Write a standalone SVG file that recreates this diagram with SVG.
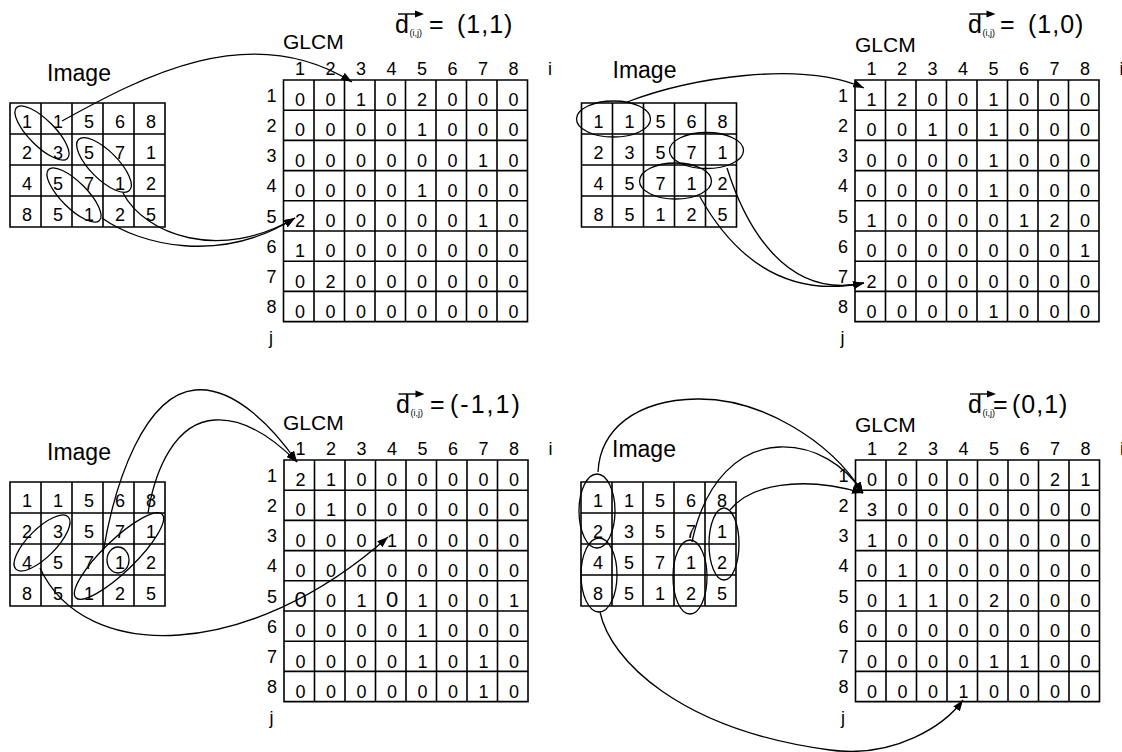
<svg xmlns="http://www.w3.org/2000/svg" width="1122" height="752" viewBox="0 0 1122 752">
<style>
text{font-family:"Liberation Sans",Arial,Helvetica,sans-serif;fill:#000}
.c{font-size:18px;text-anchor:middle}
.big{font-size:22px}
.rl{font-size:18px;text-anchor:end}
.lbl{font-size:21px}
.img{font-size:23px}
.d{font-size:25px}
.sub{font-size:9px}
.grid{fill:none;stroke:#000;stroke-width:1.6}
.ell{fill:none;stroke:#000;stroke-width:1.3}
.con{fill:none;stroke:#000;stroke-width:1.3;marker-end:url(#ah)}
.vec{fill:none;stroke:#000;stroke-width:1.4}
</style>
<defs>
<marker id="ah" markerWidth="11" markerHeight="8" refX="11" refY="4" orient="auto" markerUnits="userSpaceOnUse"><path d="M0,0 L11,4 L0,8 z" fill="#000"/></marker>
<path id="mgrid" class="grid" d="M283.5,80h244v241.6h-244z M314,80v241.6 M344.5,80v241.6 M375,80v241.6 M405.5,80v241.6 M436,80v241.6 M466.5,80v241.6 M497,80v241.6 M283.5,110.2h244 M283.5,140.4h244 M283.5,170.6h244 M283.5,200.8h244 M283.5,231h244 M283.5,261.2h244 M283.5,291.4h244"/>
<path id="igrid" class="grid" d="M10,103h155v124h-155z M41,103v124 M72,103v124 M103,103v124 M134,103v124 M10,134h155 M10,165h155 M10,196h155"/>
<g id="axes">
<text class="c" x="300" y="75">1</text><text class="c" x="330.5" y="75">2</text><text class="c" x="361" y="75">3</text><text class="c" x="391.5" y="75">4</text><text class="c" x="422" y="75">5</text><text class="c" x="452.5" y="75">6</text><text class="c" x="483" y="75">7</text><text class="c" x="513.5" y="75">8</text>
<text class="c" x="550" y="75">i</text>
<text class="rl" x="276.5" y="101.5">1</text><text class="rl" x="276.5" y="131.5">2</text><text class="rl" x="276.5" y="162">3</text><text class="rl" x="276.5" y="192">4</text><text class="rl" x="276.5" y="222.5">5</text><text class="rl" x="276.5" y="252.5">6</text><text class="rl" x="276.5" y="283">7</text><text class="rl" x="276.5" y="313">8</text>
<text class="c" x="271" y="344">j</text>
<path class="vec" d="M398,14H417"/><path d="M415,10.5L424,14L415,17.5z" fill="#000"/>
</g>
<g id="imgcells">
<text class="c" x="27" y="128">1</text><text class="c" x="58" y="128">1</text><text class="c" x="89" y="128">5</text><text class="c" x="120" y="128">6</text><text class="c" x="151" y="128">8</text>
<text class="c" x="27" y="159">2</text><text class="c" x="58" y="159">3</text><text class="c" x="89" y="159">5</text><text class="c" x="120" y="159">7</text><text class="c" x="151" y="159">1</text>
<text class="c" x="27" y="190">4</text><text class="c" x="58" y="190">5</text><text class="c" x="89" y="190">7</text><text class="c" x="120" y="190">1</text><text class="c" x="151" y="190">2</text>
<text class="c" x="27" y="221">8</text><text class="c" x="58" y="221">5</text><text class="c" x="89" y="221">1</text><text class="c" x="120" y="221">2</text><text class="c" x="151" y="221">5</text>
</g>
</defs>

<!-- Quadrant 1 -->
<g id="q1-image">
<text class="img" x="47" y="81">Image</text>
<use href="#igrid"/><use href="#imgcells"/>
<ellipse class="ell" cx="42" cy="133" rx="36" ry="13" transform="rotate(45 42 133)"/>
<ellipse class="ell" cx="104" cy="165" rx="36" ry="14" transform="rotate(45 104 165)"/>
<ellipse class="ell" cx="74" cy="195" rx="36" ry="13" transform="rotate(45 74 195)"/>
</g>
<g id="q1-glcm">
<text class="lbl" x="283" y="49">GLCM</text>
<text class="d" x="395" y="33">d</text><text class="sub" x="409.5" y="36">(i,j)</text><text class="d" x="429" y="33">=</text><text class="d" x="457" y="33" letter-spacing="1">(1,1)</text>
<use href="#mgrid"/><use href="#axes"/>
<text class="c" x="300" y="106">0</text><text class="c" x="330.5" y="106">0</text><text class="c" x="361" y="106">1</text><text class="c" x="391.5" y="106">0</text><text class="c" x="422" y="106">2</text><text class="c" x="452.5" y="106">0</text><text class="c" x="483" y="106">0</text><text class="c" x="513.5" y="106">0</text>
<text class="c" x="300" y="136">0</text><text class="c" x="330.5" y="136">0</text><text class="c" x="361" y="136">0</text><text class="c" x="391.5" y="136">0</text><text class="c" x="422" y="136">1</text><text class="c" x="452.5" y="136">0</text><text class="c" x="483" y="136">0</text><text class="c" x="513.5" y="136">0</text>
<text class="c" x="300" y="166.5">0</text><text class="c" x="330.5" y="166.5">0</text><text class="c" x="361" y="166.5">0</text><text class="c" x="391.5" y="166.5">0</text><text class="c" x="422" y="166.5">0</text><text class="c" x="452.5" y="166.5">0</text><text class="c" x="483" y="166.5">1</text><text class="c" x="513.5" y="166.5">0</text>
<text class="c" x="300" y="196.5">0</text><text class="c" x="330.5" y="196.5">0</text><text class="c" x="361" y="196.5">0</text><text class="c" x="391.5" y="196.5">0</text><text class="c" x="422" y="196.5">1</text><text class="c" x="452.5" y="196.5">0</text><text class="c" x="483" y="196.5">0</text><text class="c" x="513.5" y="196.5">0</text>
<text class="c" x="300" y="227">2</text><text class="c" x="330.5" y="227">0</text><text class="c" x="361" y="227">0</text><text class="c" x="391.5" y="227">0</text><text class="c" x="422" y="227">0</text><text class="c" x="452.5" y="227">0</text><text class="c" x="483" y="227">1</text><text class="c" x="513.5" y="227">0</text>
<text class="c" x="300" y="257">1</text><text class="c" x="330.5" y="257">0</text><text class="c" x="361" y="257">0</text><text class="c" x="391.5" y="257">0</text><text class="c" x="422" y="257">0</text><text class="c" x="452.5" y="257">0</text><text class="c" x="483" y="257">0</text><text class="c" x="513.5" y="257">0</text>
<text class="c" x="300" y="287.5">0</text><text class="c" x="330.5" y="287.5">2</text><text class="c" x="361" y="287.5">0</text><text class="c" x="391.5" y="287.5">0</text><text class="c" x="422" y="287.5">0</text><text class="c" x="452.5" y="287.5">0</text><text class="c" x="483" y="287.5">0</text><text class="c" x="513.5" y="287.5">0</text>
<text class="c" x="300" y="317.5">0</text><text class="c" x="330.5" y="317.5">0</text><text class="c" x="361" y="317.5">0</text><text class="c" x="391.5" y="317.5">0</text><text class="c" x="422" y="317.5">0</text><text class="c" x="452.5" y="317.5">0</text><text class="c" x="483" y="317.5">0</text><text class="c" x="513.5" y="317.5">0</text>
</g>

<!-- Quadrant 2 -->
<g id="q2-image" transform="translate(571.5,0)">
<text class="img" x="41" y="78">Image</text>
<use href="#igrid"/><use href="#imgcells"/>
<ellipse class="ell" cx="42" cy="119" rx="37" ry="18"/>
<ellipse class="ell" cx="135" cy="150.5" rx="37" ry="18"/>
<ellipse class="ell" cx="104" cy="181" rx="36" ry="18"/>
</g>
<g id="q2-glcm" transform="translate(571.5,0)">
<text class="lbl" x="283.5" y="52">GLCM</text>
<text class="d" x="396.5" y="33">d</text><text class="sub" x="411" y="36">(i,j)</text><text class="d" x="428.5" y="33">=</text><text class="d" x="456.5" y="33" letter-spacing="1">(1,0)</text>
<use href="#mgrid"/><use href="#axes"/>
<text class="c" x="300" y="106">1</text><text class="c" x="330.5" y="106">2</text><text class="c" x="361" y="106">0</text><text class="c" x="391.5" y="106">0</text><text class="c" x="422" y="106">1</text><text class="c" x="452.5" y="106">0</text><text class="c" x="483" y="106">0</text><text class="c" x="513.5" y="106">0</text>
<text class="c" x="300" y="136">0</text><text class="c" x="330.5" y="136">0</text><text class="c" x="361" y="136">1</text><text class="c" x="391.5" y="136">0</text><text class="c" x="422" y="136">1</text><text class="c" x="452.5" y="136">0</text><text class="c" x="483" y="136">0</text><text class="c" x="513.5" y="136">0</text>
<text class="c" x="300" y="166.5">0</text><text class="c" x="330.5" y="166.5">0</text><text class="c" x="361" y="166.5">0</text><text class="c" x="391.5" y="166.5">0</text><text class="c" x="422" y="166.5">1</text><text class="c" x="452.5" y="166.5">0</text><text class="c" x="483" y="166.5">0</text><text class="c" x="513.5" y="166.5">0</text>
<text class="c" x="300" y="196.5">0</text><text class="c" x="330.5" y="196.5">0</text><text class="c" x="361" y="196.5">0</text><text class="c" x="391.5" y="196.5">0</text><text class="c" x="422" y="196.5">1</text><text class="c" x="452.5" y="196.5">0</text><text class="c" x="483" y="196.5">0</text><text class="c" x="513.5" y="196.5">0</text>
<text class="c" x="300" y="227">1</text><text class="c" x="330.5" y="227">0</text><text class="c" x="361" y="227">0</text><text class="c" x="391.5" y="227">0</text><text class="c" x="422" y="227">0</text><text class="c" x="452.5" y="227">1</text><text class="c" x="483" y="227">2</text><text class="c" x="513.5" y="227">0</text>
<text class="c" x="300" y="257">0</text><text class="c" x="330.5" y="257">0</text><text class="c" x="361" y="257">0</text><text class="c" x="391.5" y="257">0</text><text class="c" x="422" y="257">0</text><text class="c" x="452.5" y="257">0</text><text class="c" x="483" y="257">0</text><text class="c" x="513.5" y="257">1</text>
<text class="c" x="300" y="287.5">2</text><text class="c" x="330.5" y="287.5">0</text><text class="c" x="361" y="287.5">0</text><text class="c" x="391.5" y="287.5">0</text><text class="c" x="422" y="287.5">0</text><text class="c" x="452.5" y="287.5">0</text><text class="c" x="483" y="287.5">0</text><text class="c" x="513.5" y="287.5">0</text>
<text class="c" x="300" y="317.5">0</text><text class="c" x="330.5" y="317.5">0</text><text class="c" x="361" y="317.5">0</text><text class="c" x="391.5" y="317.5">0</text><text class="c" x="422" y="317.5">1</text><text class="c" x="452.5" y="317.5">0</text><text class="c" x="483" y="317.5">0</text><text class="c" x="513.5" y="317.5">0</text>
</g>

<!-- Quadrant 3 -->
<g id="q3-image" transform="translate(0,379)">
<text class="img" x="47" y="81">Image</text>
<use href="#igrid"/><use href="#imgcells"/>
<ellipse class="ell" cx="42" cy="164" rx="37" ry="14" transform="rotate(-45 42 164)"/>
<ellipse class="ell" cx="119" cy="177" rx="60" ry="16" transform="rotate(-44 119 177)"/>
<ellipse class="ell" cx="118" cy="181" rx="11" ry="13"/>
</g>
<g id="q3-glcm" transform="translate(0.5,380)">
<text class="lbl" x="282.5" y="50">GLCM</text>
<text class="d" x="395.5" y="33">d</text><text class="sub" x="410" y="36">(i,j)</text><text class="d" x="429.5" y="33">=</text><text class="d" x="449.5" y="33" letter-spacing="2">(-1,1)</text>
<use href="#mgrid"/><use href="#axes"/>
<text class="c" x="300" y="106">2</text><text class="c" x="330.5" y="106">1</text><text class="c" x="361" y="106">0</text><text class="c" x="391.5" y="106">0</text><text class="c" x="422" y="106">0</text><text class="c" x="452.5" y="106">0</text><text class="c" x="483" y="106">0</text><text class="c" x="513.5" y="106">0</text>
<text class="c" x="300" y="136">0</text><text class="c" x="330.5" y="136">1</text><text class="c" x="361" y="136">0</text><text class="c" x="391.5" y="136">0</text><text class="c" x="422" y="136">0</text><text class="c" x="452.5" y="136">0</text><text class="c" x="483" y="136">0</text><text class="c" x="513.5" y="136">0</text>
<text class="c" x="300" y="166.5">0</text><text class="c" x="330.5" y="166.5">0</text><text class="c" x="361" y="166.5">0</text><text class="c" x="391.5" y="166.5">1</text><text class="c" x="422" y="166.5">0</text><text class="c" x="452.5" y="166.5">0</text><text class="c" x="483" y="166.5">0</text><text class="c" x="513.5" y="166.5">0</text>
<text class="c" x="300" y="196.5">0</text><text class="c" x="330.5" y="196.5">0</text><text class="c" x="361" y="196.5">0</text><text class="c" x="391.5" y="196.5">0</text><text class="c" x="422" y="196.5">0</text><text class="c" x="452.5" y="196.5">0</text><text class="c" x="483" y="196.5">0</text><text class="c" x="513.5" y="196.5">0</text>
<text class="c big" x="300" y="227">0</text><text class="c" x="330.5" y="227">0</text><text class="c" x="361" y="227">1</text><text class="c big" x="391.5" y="227">0</text><text class="c" x="422" y="227">1</text><text class="c" x="452.5" y="227">0</text><text class="c" x="483" y="227">0</text><text class="c" x="513.5" y="227">1</text>
<text class="c" x="300" y="257">0</text><text class="c" x="330.5" y="257">0</text><text class="c" x="361" y="257">0</text><text class="c" x="391.5" y="257">0</text><text class="c" x="422" y="257">1</text><text class="c" x="452.5" y="257">0</text><text class="c" x="483" y="257">0</text><text class="c" x="513.5" y="257">0</text>
<text class="c" x="300" y="287.5">0</text><text class="c" x="330.5" y="287.5">0</text><text class="c" x="361" y="287.5">0</text><text class="c" x="391.5" y="287.5">0</text><text class="c" x="422" y="287.5">1</text><text class="c" x="452.5" y="287.5">0</text><text class="c" x="483" y="287.5">1</text><text class="c" x="513.5" y="287.5">0</text>
<text class="c" x="300" y="317.5">0</text><text class="c" x="330.5" y="317.5">0</text><text class="c" x="361" y="317.5">0</text><text class="c" x="391.5" y="317.5">0</text><text class="c" x="422" y="317.5">0</text><text class="c" x="452.5" y="317.5">0</text><text class="c" x="483" y="317.5">1</text><text class="c" x="513.5" y="317.5">0</text>
</g>

<!-- Quadrant 4 -->
<g id="q4-image" transform="translate(571,379)">
<text class="img" x="41" y="78">Image</text>
<use href="#igrid"/><use href="#imgcells"/>
<ellipse class="ell" cx="26" cy="132" rx="18" ry="37"/>
<ellipse class="ell" cx="28" cy="196" rx="18" ry="37"/>
<ellipse class="ell" cx="119" cy="198" rx="17" ry="37"/>
<ellipse class="ell" cx="153" cy="165" rx="15" ry="36"/>
</g>
<g id="q4-glcm" transform="translate(572,380)">
<text class="lbl" x="283" y="52">GLCM</text>
<text class="d" x="396" y="33">d</text><text class="sub" x="410.5" y="36">(i,j)</text><text class="d" x="421" y="33">=</text><text class="d" x="440" y="33" letter-spacing="1">(0,1)</text>
<use href="#mgrid"/><use href="#axes"/>
<text class="c" x="300" y="106">0</text><text class="c" x="330.5" y="106">0</text><text class="c" x="361" y="106">0</text><text class="c" x="391.5" y="106">0</text><text class="c" x="422" y="106">0</text><text class="c" x="452.5" y="106">0</text><text class="c" x="483" y="106">2</text><text class="c" x="513.5" y="106">1</text>
<text class="c" x="300" y="136">3</text><text class="c" x="330.5" y="136">0</text><text class="c" x="361" y="136">0</text><text class="c" x="391.5" y="136">0</text><text class="c" x="422" y="136">0</text><text class="c" x="452.5" y="136">0</text><text class="c" x="483" y="136">0</text><text class="c" x="513.5" y="136">0</text>
<text class="c" x="300" y="166.5">1</text><text class="c" x="330.5" y="166.5">0</text><text class="c" x="361" y="166.5">0</text><text class="c" x="391.5" y="166.5">0</text><text class="c" x="422" y="166.5">0</text><text class="c" x="452.5" y="166.5">0</text><text class="c" x="483" y="166.5">0</text><text class="c" x="513.5" y="166.5">0</text>
<text class="c" x="300" y="196.5">0</text><text class="c" x="330.5" y="196.5">1</text><text class="c" x="361" y="196.5">0</text><text class="c" x="391.5" y="196.5">0</text><text class="c" x="422" y="196.5">0</text><text class="c" x="452.5" y="196.5">0</text><text class="c" x="483" y="196.5">0</text><text class="c" x="513.5" y="196.5">0</text>
<text class="c" x="300" y="227">0</text><text class="c" x="330.5" y="227">1</text><text class="c" x="361" y="227">1</text><text class="c" x="391.5" y="227">0</text><text class="c" x="422" y="227">2</text><text class="c" x="452.5" y="227">0</text><text class="c" x="483" y="227">0</text><text class="c" x="513.5" y="227">0</text>
<text class="c" x="300" y="257">0</text><text class="c" x="330.5" y="257">0</text><text class="c" x="361" y="257">0</text><text class="c" x="391.5" y="257">0</text><text class="c" x="422" y="257">0</text><text class="c" x="452.5" y="257">0</text><text class="c" x="483" y="257">0</text><text class="c" x="513.5" y="257">0</text>
<text class="c" x="300" y="287.5">0</text><text class="c" x="330.5" y="287.5">0</text><text class="c" x="361" y="287.5">0</text><text class="c" x="391.5" y="287.5">0</text><text class="c" x="422" y="287.5">1</text><text class="c" x="452.5" y="287.5">1</text><text class="c" x="483" y="287.5">0</text><text class="c" x="513.5" y="287.5">0</text>
<text class="c" x="300" y="317.5">0</text><text class="c" x="330.5" y="317.5">0</text><text class="c" x="361" y="317.5">0</text><text class="c" x="391.5" y="317.5">1</text><text class="c" x="422" y="317.5">0</text><text class="c" x="452.5" y="317.5">0</text><text class="c" x="483" y="317.5">0</text><text class="c" x="513.5" y="317.5">0</text>
</g>

<g id="connectors">
<path class="con" d="M62,121 C140,78 250,18 352,82"/>
<path class="con" d="M123,193 C145,235 220,262 295,218"/>
<path class="con" d="M102,218 C140,245 220,265 295,218"/>
<path class="con" d="M627,102 C690,78 800,60 864,88"/>
<path class="con" d="M727,168 C745,225 785,300 864,283"/>
<path class="con" d="M700,197 C730,250 780,300 864,283"/>
<path class="con" d="M103,553 C115,480 145,395 195,390 C235,386 275,430 297,462"/>
<path class="con" d="M148,513 C155,470 175,422 215,420 C245,418 275,440 297,462"/>
<path class="con" d="M40,568 C85,665 250,660 388,537"/>
<path class="con" d="M598,472 C600,430 635,400 697,399 C760,398 830,440 863,493"/>
<path class="con" d="M692,542 C705,480 740,448 780,447 C815,446 845,465 863,493"/>
<path class="con" d="M730,510 C750,485 800,475 863,493"/>
<path class="con" d="M600,612 C610,660 680,730 830,750 C895,758.7 945,725 963,700"/>
</g>
</svg>
